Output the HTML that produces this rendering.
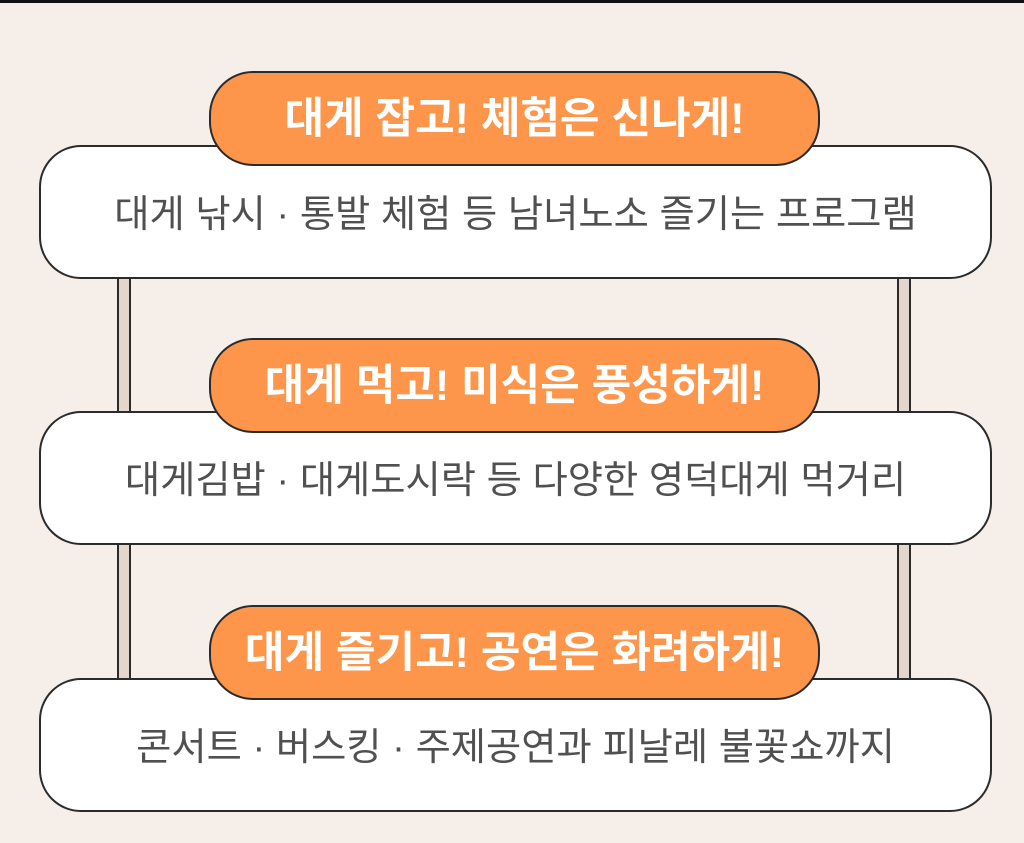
<!DOCTYPE html>
<html><head><meta charset="utf-8"><style>
body{margin:0;width:1024px;height:843px;background:#f5eee9;position:relative;overflow:hidden;font-family:"Liberation Sans","Noto Sans CJK KR",sans-serif}
.top{position:absolute;left:0;top:0;width:1024px;height:3px;background:#111}
.post{position:absolute;width:10px;background:#e3d6cc;border-left:2px solid #2b2b2b;border-right:2px solid #2b2b2b;top:270px;height:420px}
.box{position:absolute;left:39px;background:#fff;border:2px solid #2b2b2b;border-radius:42px;box-sizing:border-box;width:953px;height:134px}
.box span{position:absolute;left:-20px;right:-20px;top:46px;text-align:center;font-size:38.3px;color:#505050;line-height:44px;white-space:nowrap}
.pill{position:absolute;left:209px;width:611px;height:95px;background:#fd954a;border:2px solid #2b2b2b;border-radius:44px;box-sizing:border-box;text-align:center;color:#fff;font-weight:bold;font-size:43px;line-height:50px;padding-top:21px;white-space:nowrap}
</style></head><body>
<div class="top"></div>
<div class="post" style="left:117px"></div>
<div class="post" style="left:897px"></div>
<div class="box" style="top:145px"><span>대게 낚시 · 통발 체험 등 남녀노소 즐기는 프로그램</span></div>
<div class="pill" style="top:71px">대게 잡고! 체험은 신나게!</div>
<div class="box" style="top:411px"><span>대게김밥 · 대게도시락 등 다양한 영덕대게 먹거리</span></div>
<div class="pill" style="top:338px">대게 먹고! 미식은 풍성하게!</div>
<div class="box" style="top:678px"><span>콘서트 · 버스킹 · 주제공연과 피날레 불꽃쇼까지</span></div>
<div class="pill" style="top:605px">대게 즐기고! 공연은 화려하게!</div>
</body></html>
